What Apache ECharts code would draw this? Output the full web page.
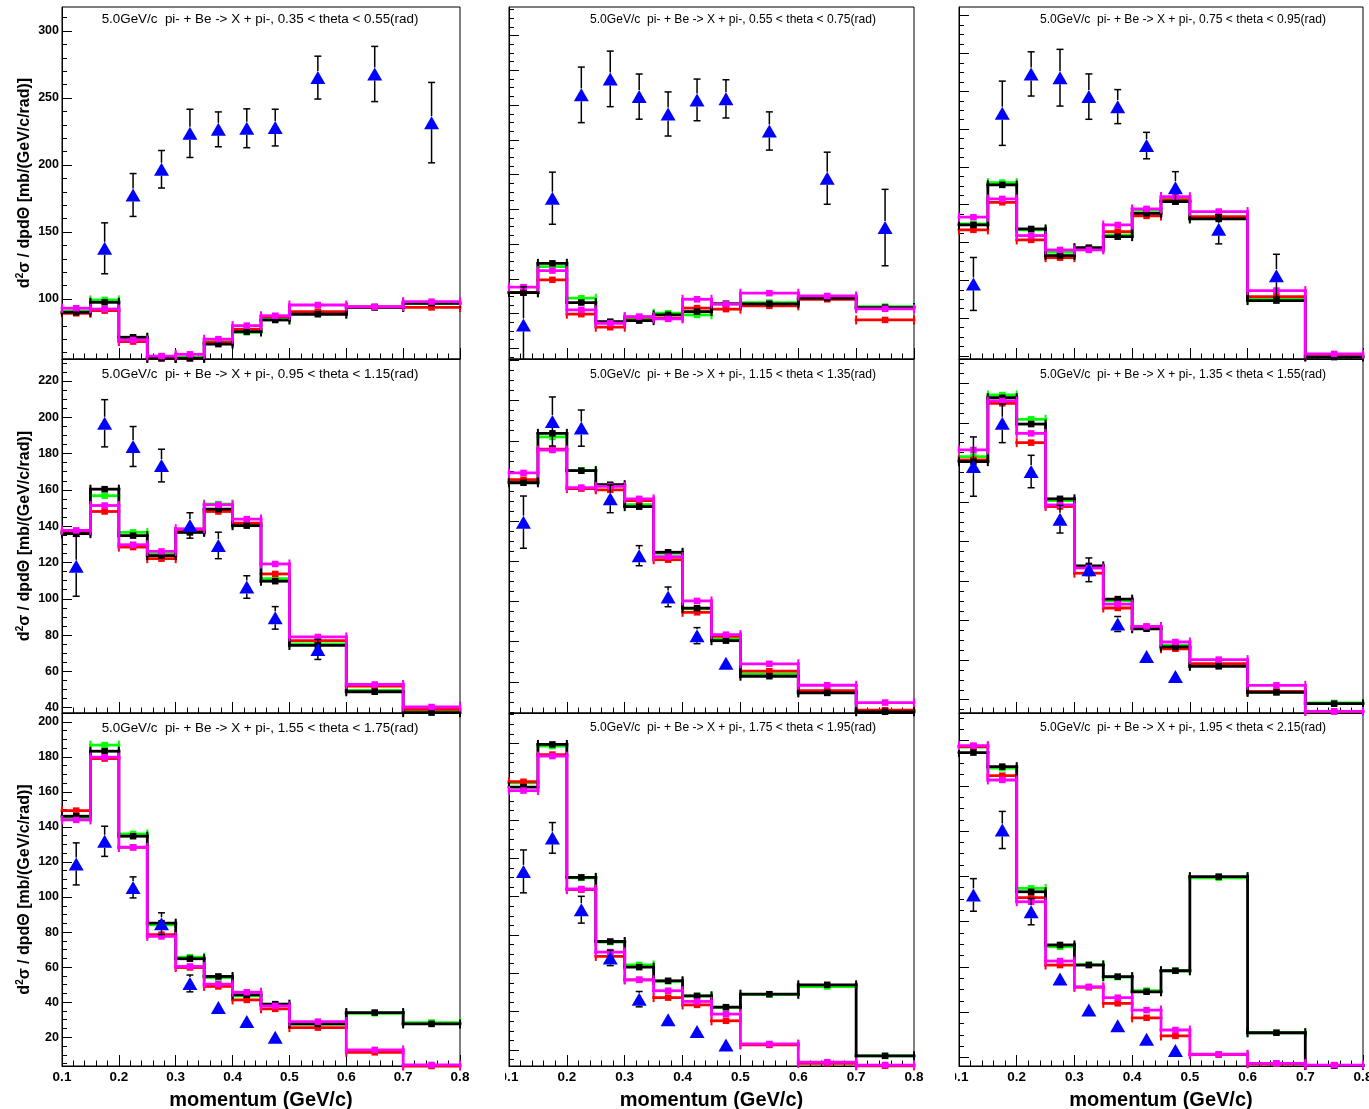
<!DOCTYPE html>
<html>
<head>
<meta charset="utf-8">
<title>pi- + Be -> X + pi- double-differential cross sections</title>
<script src="https://cdn.jsdelivr.net/npm/echarts@6/dist/echarts.min.js"></script>
<style>
  html, body { margin: 0; padding: 0; background: #ffffff; }
  .pad { position: absolute; top: 0; height: 1109px; overflow: hidden; }
</style>
</head>
<body>
<div id="col0" class="pad" style="left:0px;width:486px"></div>
<div id="col1" class="pad" style="left:505px;width:431px"></div>
<div id="col2" class="pad" style="left:955px;width:414px"></div>
<script>
// ---- binning and axis ticks -------------------------------------------
const binEdges = [0.10, 0.15, 0.20, 0.25, 0.30, 0.35, 0.40, 0.45, 0.50, 0.60, 0.70, 0.80];
const xMajorTicks = [0.1, 0.2, 0.3, 0.4, 0.5, 0.6, 0.7, 0.8];

const titles = [
  '5.0GeV/c  pi- + Be -> X + pi-, 0.35 < theta < 0.55(rad)',
  '5.0GeV/c  pi- + Be -> X + pi-, 0.55 < theta < 0.75(rad)',
  '5.0GeV/c  pi- + Be -> X + pi-, 0.75 < theta < 0.95(rad)',
  '5.0GeV/c  pi- + Be -> X + pi-, 0.95 < theta < 1.15(rad)',
  '5.0GeV/c  pi- + Be -> X + pi-, 1.15 < theta < 1.35(rad)',
  '5.0GeV/c  pi- + Be -> X + pi-, 1.35 < theta < 1.55(rad)',
  '5.0GeV/c  pi- + Be -> X + pi-, 1.55 < theta < 1.75(rad)',
  '5.0GeV/c  pi- + Be -> X + pi-, 1.75 < theta < 1.95(rad)',
  '5.0GeV/c  pi- + Be -> X + pi-, 1.95 < theta < 2.15(rad)'
];

// ---- 0.35 < theta < 0.55 ----------------------------------------------
const p1Mom = [0.175, 0.225, 0.275, 0.325, 0.375, 0.425, 0.475, 0.55, 0.65, 0.75];
const p1Data = [137.8, 177.6, 196.8, 223.6, 226.6, 227.4, 227.9, 265.2, 267.9, 231.6];
const p1Err = [19, 16, 14, 18, 13, 14.5, 13.7, 16, 20.6, 30];
const p1Green = [91.0, 99.3, 71.4, 56.3, 56.5, 68.2, 75.1, 84.8, 89.3, 94.0, 96.8];
const p1Red = [89.3, 91.3, 68.2, 55.7, 55.7, 67.5, 77.4, 86.8, 90.5, 94.0, 93.7];
const p1Black = [90.1, 97.5, 71.4, 55.7, 55.7, 66.3, 75.6, 84.3, 88.6, 93.7, 96.8];
const p1Magenta = [93.1, 92.5, 69.4, 57.4, 58.7, 70.0, 80.1, 87.5, 95.5, 94.2, 98.0];
const p1Range = [55.2, 317.9];
const p1Ticks = [100, 150, 200, 250, 300];

// ---- 0.55 < theta < 0.75 ----------------------------------------------
const p2Mom = [0.125, 0.175, 0.225, 0.275, 0.325, 0.375, 0.425, 0.475, 0.55, 0.65, 0.75];
const p2Data = [93.4, 166.4, 225.9, 235.1, 224.9, 214.9, 223.0, 223.6, 205.1, 177.9, 149.5];
const p2Err = [22, 15, 16, 16, 13, 12.7, 12, 11, 11, 15, 22];
const p2Green = [112.0, 127.0, 108.8, 95.0, 96.7, 100.2, 99.2, 105.6, 106.3, 109.2, 104.0];
const p2Red = [112.0, 119.4, 99.6, 92.1, 97.9, 97.3, 103.1, 102.5, 104.4, 108.2, 96.3];
const p2Black = [112.0, 128.9, 106.3, 95.3, 95.9, 99.2, 101.1, 105.6, 105.6, 108.9, 103.4];
const p2Magenta = [115.2, 124.7, 102.1, 94.4, 98.2, 96.9, 108.2, 105.4, 111.7, 110.1, 102.7];
const p2Range = [73.8, 276.5];
const p2Ticks = [80, 100, 120, 140, 160, 180, 200, 220, 240, 260];

// ---- 0.75 < theta < 0.95 ----------------------------------------------
const p3Mom = [0.125, 0.175, 0.225, 0.275, 0.325, 0.375, 0.425, 0.475, 0.55, 0.65];
const p3Data = [98.1, 188.4, 209.2, 207.2, 197.2, 191.9, 171.3, 149.0, 127.0, 102.5];
const p3Err = [14, 17, 11.7, 15, 12, 9, 7, 8.5, 7.7, 11.3];
const p3Green = [129.8, 151.7, 126.7, 114.9, 117.0, 124.0, 137.3, 142.9, 132.9, 90.0, 60.0];
const p3Red = [126.7, 141.3, 121.4, 112.0, 116.6, 125.8, 134.1, 142.5, 133.7, 91.4, 59.7];
const p3Black = [129.3, 150.5, 127.2, 113.1, 117.3, 123.1, 135.5, 141.6, 132.5, 89.3, 59.4];
const p3Magenta = [133.4, 143.1, 123.7, 116.1, 116.1, 129.3, 137.8, 144.3, 136.4, 94.6, 61.1];
const p3Range = [58.4, 244.6];
const p3Ticks = [60, 80, 100, 120, 140, 160, 180, 200, 220, 240];

// ---- 0.95 < theta < 1.15 ----------------------------------------------
const p4Mom = [0.125, 0.175, 0.225, 0.275, 0.325, 0.375, 0.425, 0.475, 0.55];
const p4Data = [117.9, 196.7, 183.9, 173.4, 140.4, 129.4, 106.5, 89.5, 72.1];
const p4Err = [16.5, 13, 11, 9, 7, 7.3, 6.2, 6.2, 5.5];
const p4Green = [136.6, 156.8, 136.6, 124.7, 136.8, 152.2, 140.8, 111.1, 75.2, 49.5, 38.2];
const p4Red = [137.1, 148.1, 128.5, 122.1, 137.1, 148.1, 141.7, 113.7, 77.0, 51.9, 39.1];
const p4Black = [135.9, 160.4, 134.8, 123.8, 136.6, 149.4, 140.3, 109.7, 74.3, 48.8, 37.3];
const p4Magenta = [137.7, 151.4, 129.8, 126.1, 138.6, 151.8, 143.9, 119.2, 79.0, 52.8, 40.4];
const p4Range = [37.1, 232.1];
const p4Ticks = [40, 60, 80, 100, 120, 140, 160, 180, 200, 220];

// ---- 1.15 < theta < 1.35 ----------------------------------------------
const p5Mom = [0.125, 0.175, 0.225, 0.275, 0.325, 0.375, 0.425, 0.475];
const p5Data = [119.5, 169.6, 166.3, 131.1, 102.8, 82.3, 63.0, 49.3];
const p5Err = [13, 12.2, 9, 6.9, 5, 4.9, 4, 2];
const p5Green = [139.7, 161.9, 145.3, 138.0, 128.2, 104.0, 76.4, 61.5, 43.9, 34.9, 25.5];
const p5Red = [140.6, 155.8, 136.2, 135.6, 130.2, 100.8, 74.6, 62.7, 45.3, 35.6, 25.9];
const p5Black = [139.1, 163.7, 145.1, 138.1, 127.2, 104.5, 76.7, 60.5, 42.8, 34.5, 25.1];
const p5Magenta = [144.0, 155.4, 136.7, 137.3, 131.1, 102.3, 80.3, 63.5, 49.0, 38.3, 29.7];
const p5Range = [24.5, 200.7];
const p5Ticks = [40, 60, 80, 100, 120, 140, 160, 180, 200];

// ---- 1.35 < theta < 1.55 ----------------------------------------------
const p6Mom = [0.125, 0.175, 0.225, 0.275, 0.325, 0.375, 0.425, 0.475];
const p6Data = [137.9, 159.8, 135.4, 111.3, 85.7, 58.3, 41.9, 31.8];
const p6Err = [15, 9.8, 8.2, 7, 6, 3.8, 2, 2];
const p6Green = [142.9, 174.1, 161.8, 120.7, 86.9, 70.0, 56.4, 47.5, 37.4, 23.9, 18.4];
const p6Red = [141.3, 169.9, 150.0, 117.7, 84.0, 66.4, 56.9, 45.8, 38.2, 24.2, 14.1];
const p6Black = [140.4, 172.7, 159.4, 121.6, 87.7, 70.9, 55.9, 46.7, 36.9, 23.7, 18.0];
const p6Magenta = [146.3, 171.1, 154.7, 118.5, 86.6, 68.4, 57.1, 49.2, 40.3, 27.3, 14.1];
const p6Range = [13.3, 192.3];
const p6Ticks = [20, 40, 60, 80, 100, 120, 140, 160, 180];

// ---- 1.55 < theta < 1.75 ----------------------------------------------
const p7Mom = [0.125, 0.175, 0.225, 0.275, 0.325, 0.375, 0.425, 0.475];
const p7Data = [118.9, 131.8, 105.5, 84.8, 50.7, 37.0, 29.0, 20.0];
const p7Err = [12, 8.6, 6, 6.2, 4.8, 2, 2, 2];
const p7Green = [145.1, 186.7, 136.0, 84.2, 65.7, 54.1, 43.6, 38.5, 27.5, 33.7, 28.4];
const p7Red = [149.3, 179.0, 128.4, 78.5, 59.8, 49.0, 41.3, 36.2, 25.5, 11.4, 3.6];
const p7Black = [146.1, 183.2, 134.7, 85.1, 64.8, 54.7, 44.2, 38.9, 27.6, 34.1, 27.6];
const p7Magenta = [144.0, 179.8, 128.4, 77.5, 60.4, 50.3, 45.7, 37.9, 28.9, 12.8, 4.2];
const p7Range = [3.6, 205.0];
const p7Ticks = [20, 40, 60, 80, 100, 120, 140, 160, 180, 200];

// ---- 1.75 < theta < 1.95 ----------------------------------------------
const p8Mom = [0.125, 0.175, 0.225, 0.275, 0.325, 0.375, 0.425, 0.475];
const p8Data = [113.2, 130.7, 93.2, 68.0, 46.5, 35.7, 29.6, 22.6];
const p8Err = [11.2, 8, 7, 4, 4, 2, 2, 2];
const p8Green = [159.4, 178.6, 109.8, 76.3, 64.4, 55.8, 48.2, 42.3, 48.9, 53.1, 16.9];
const p8Red = [160.0, 174.2, 103.7, 68.8, 56.6, 47.3, 43.5, 35.2, 22.6, 13.0, 11.7];
const p8Black = [157.2, 179.5, 110.1, 76.6, 63.2, 56.1, 48.2, 42.3, 49.1, 54.0, 16.9];
const p8Magenta = [155.4, 173.4, 104.0, 71.1, 56.6, 50.9, 45.3, 38.7, 23.1, 13.6, 12.1];
const p8Range = [11.6, 195.9];
const p8Ticks = [20, 40, 60, 80, 100, 120, 140, 160, 180];

// ---- 1.95 < theta < 2.15 ----------------------------------------------
const p9Mom = [0.125, 0.175, 0.225, 0.275, 0.325, 0.375, 0.425, 0.475];
const p9Data = [91.8, 120.5, 84.4, 54.7, 41.0, 34.0, 28.0, 23.0];
const p9Err = [7.2, 8.2, 5.8, 2, 2, 2, 2, 2];
const p9Green = [157.1, 147.8, 94.7, 68.9, 61.0, 55.5, 49.5, 58.3, 99.4, 30.9, 16.4];
const p9Red = [157.4, 144.5, 90.6, 60.8, 51.0, 43.9, 37.5, 29.5, 21.2, 17.2, 16.4];
const p9Black = [154.7, 148.5, 93.2, 69.7, 60.8, 55.7, 49.0, 58.3, 99.9, 30.9, 16.4];
const p9Magenta = [157.8, 142.6, 88.8, 62.6, 51.2, 46.4, 40.9, 32.1, 21.4, 17.4, 16.6];
const p9Range = [16.2, 172.2];
const p9Ticks = [20, 40, 60, 80, 100, 120, 140, 160];

// ---- panel table (row-major, 3x3) -------------------------------------
const panels = [
  {mom: p1Mom, data: p1Data, err: p1Err, green: p1Green, red: p1Red, black: p1Black, magenta: p1Magenta, range: p1Range, ticks: p1Ticks, minorStep: 10},
  {mom: p2Mom, data: p2Data, err: p2Err, green: p2Green, red: p2Red, black: p2Black, magenta: p2Magenta, range: p2Range, ticks: p2Ticks, minorStep: 5},
  {mom: p3Mom, data: p3Data, err: p3Err, green: p3Green, red: p3Red, black: p3Black, magenta: p3Magenta, range: p3Range, ticks: p3Ticks, minorStep: 5},
  {mom: p4Mom, data: p4Data, err: p4Err, green: p4Green, red: p4Red, black: p4Black, magenta: p4Magenta, range: p4Range, ticks: p4Ticks, minorStep: 5},
  {mom: p5Mom, data: p5Data, err: p5Err, green: p5Green, red: p5Red, black: p5Black, magenta: p5Magenta, range: p5Range, ticks: p5Ticks, minorStep: 5},
  {mom: p6Mom, data: p6Data, err: p6Err, green: p6Green, red: p6Red, black: p6Black, magenta: p6Magenta, range: p6Range, ticks: p6Ticks, minorStep: 5},
  {mom: p7Mom, data: p7Data, err: p7Err, green: p7Green, red: p7Red, black: p7Black, magenta: p7Magenta, range: p7Range, ticks: p7Ticks, minorStep: 5},
  {mom: p8Mom, data: p8Data, err: p8Err, green: p8Green, red: p8Red, black: p8Black, magenta: p8Magenta, range: p8Range, ticks: p8Ticks, minorStep: 5},
  {mom: p9Mom, data: p9Data, err: p9Err, green: p9Green, red: p9Red, black: p9Black, magenta: p9Magenta, range: p9Range, ticks: p9Ticks, minorStep: 5}
];

// ---- styling / layout -------------------------------------------------
const FONT = '"Liberation Sans", Arial, Helvetica, sans-serif';
const COL = {green: '#00ff00', red: '#ff0000', black: '#000000', magenta: '#ff00ff', data: '#0000ff'};
const rowTop = [7, 359, 713];
const rowHeight = [352, 354, 353];
const titleY = [19.5, 374.5, 728];
const columns = [
  {el: 'col0', gridLeft: 62, gridWidth: 398, titleX: 260, titleSize: 13.4},
  {el: 'col1', gridLeft: 4, gridWidth: 405, titleX: 228, titleSize: 12.1},
  {el: 'col2', gridLeft: 4, gridWidth: 404, titleX: 228, titleSize: 12.1}
];

const xMinorTicks = [];
for (let k = 5; k <= 40; k++) if (k % 5 !== 0) xMinorTicks.push(k / 50);

function minorTicks(range, step, majors) {
  const out = [];
  for (let v = Math.ceil(range[0] / step) * step; v <= range[1] + 1e-9; v += step) {
    if (!majors.some(m => Math.abs(m - v) < 1e-9)) out.push(v);
  }
  return out;
}

// Histogram drawn ROOT-style: horizontal bar over each bin with end caps,
// a square marker at the bin centre and (optionally) the connecting steps.
function histSeries(axisIdx, values, color, steps, z) {
  const data = values.map((v, i) => [binEdges[i], binEdges[i + 1], v, i + 1 < values.length ? values[i + 1] : v]);
  return {
    type: 'custom', xAxisIndex: axisIdx, yAxisIndex: axisIdx, z: z, silent: true,
    data: data, encode: {x: [0, 1], y: 2},
    renderItem: function (params, api) {
      const lo = api.value(0), hi = api.value(1), v = api.value(2), nxt = api.value(3);
      const a = api.coord([lo, v]);
      const b = api.coord([hi, v]);
      const bar = {stroke: color, lineWidth: 2.8, lineCap: 'square'};
      const cap = {stroke: color, lineWidth: 2};
      const ch = 4.5, ms = 6.5;
      const kids = [
        {type: 'line', shape: {x1: a[0], y1: a[1], x2: b[0], y2: b[1]}, style: bar},
        {type: 'line', shape: {x1: a[0], y1: a[1] - ch, x2: a[0], y2: a[1] + ch}, style: cap},
        {type: 'line', shape: {x1: b[0], y1: b[1] - ch, x2: b[0], y2: b[1] + ch}, style: cap},
        {type: 'rect', shape: {x: (a[0] + b[0]) / 2 - ms / 2, y: a[1] - ms / 2, width: ms, height: ms}, style: {fill: color}}
      ];
      if (steps && nxt !== v) {
        const c = api.coord([hi, nxt]);
        kids.push({type: 'line', shape: {x1: b[0], y1: b[1], x2: c[0], y2: c[1]}, style: bar});
      }
      return {type: 'group', children: kids};
    }
  };
}

// Vertical error bars of the measurements, kept outside the marker and
// clipped to the frame.
function errorSeries(axisIdx, p) {
  const data = p.mom.map((m, i) => [m, p.data[i], p.err[i]]);
  return {
    type: 'custom', xAxisIndex: axisIdx, yAxisIndex: axisIdx, z: 10, silent: true,
    data: data, encode: {x: 0, y: 1},
    renderItem: function (params, api) {
      const x = api.value(0), v = api.value(1), e = api.value(2);
      const c = api.coord([x, v]);
      const t = api.coord([x, v + e]);
      const b = api.coord([x, v - e]);
      const cs = params.coordSys;
      const gap = 6.5, hw = 3.5;
      const st = {stroke: '#000', lineWidth: 1.5};
      const kids = [];
      if (c[1] - t[1] > gap) {
        const yt = Math.max(t[1], cs.y);
        kids.push({type: 'line', shape: {x1: c[0], y1: c[1] - gap, x2: c[0], y2: yt}, style: st});
        if (t[1] >= cs.y) kids.push({type: 'line', shape: {x1: c[0] - hw, y1: yt, x2: c[0] + hw, y2: yt}, style: st});
      }
      if (b[1] - c[1] > gap) {
        const yb = Math.min(b[1], cs.y + cs.height);
        kids.push({type: 'line', shape: {x1: c[0], y1: c[1] + gap, x2: c[0], y2: yb}, style: st});
        if (b[1] <= cs.y + cs.height) kids.push({type: 'line', shape: {x1: c[0] - hw, y1: yb, x2: c[0] + hw, y2: yb}, style: st});
      }
      return {type: 'group', children: kids};
    }
  };
}

function columnOption(col) {
  const L = columns[col];
  const grid = [], xAxis = [], yAxis = [], series = [], graphic = [];
  for (let row = 0; row < 3; row++) {
    const p = panels[row * 3 + col];
    const ax = 2 * row;
    const bottomRow = row === 2;
    grid.push({left: L.gridLeft, top: rowTop[row], width: L.gridWidth, height: rowHeight[row],
      containLabel: false, outerBoundsMode: 'none',
      show: true, borderColor: '#000', borderWidth: 1, backgroundColor: 'transparent'});

    xAxis.push({
      type: 'value', gridIndex: row, position: 'bottom', min: 0.1, max: 0.8,
      axisLine: {show: true, onZero: false, lineStyle: {color: '#000', width: 1}},
      axisTick: {show: true, inside: true, length: 11, customValues: xMajorTicks, lineStyle: {color: '#000', width: 1}},
      axisLabel: {show: bottomRow, customValues: xMajorTicks, formatter: v => v.toFixed(1),
        color: '#000', fontFamily: FONT, fontWeight: 'bold', fontSize: 13.5, margin: 4,
        showMinLabel: true, showMaxLabel: true, hideOverlap: false},
      splitLine: {show: false},
      name: bottomRow ? 'momentum (GeV/c)' : '', nameLocation: 'middle', nameGap: 24,
      nameMoveOverlap: false,
      nameTextStyle: {color: '#000', fontFamily: FONT, fontWeight: 'bold', fontSize: 20}
    });
    xAxis.push({
      type: 'value', gridIndex: row, position: 'bottom', min: 0.1, max: 0.8,
      axisLine: {show: false, onZero: false},
      axisTick: {show: true, inside: true, length: 5.5, customValues: xMinorTicks, lineStyle: {color: '#000', width: 1}},
      axisLabel: {show: false}, splitLine: {show: false}
    });

    const yMinor = minorTicks(p.range, p.minorStep, p.ticks);
    yAxis.push({
      type: 'value', gridIndex: row, position: 'left', min: p.range[0], max: p.range[1],
      axisLine: {show: true, onZero: false, lineStyle: {color: '#000', width: 1}},
      axisTick: {show: true, inside: true, length: 10, customValues: p.ticks, lineStyle: {color: '#000', width: 1}},
      axisLabel: {show: col === 0, customValues: p.ticks, color: '#000', fontFamily: FONT,
        fontWeight: 'bold', fontSize: 12.5, margin: 3, showMinLabel: true, showMaxLabel: true, hideOverlap: false},
      splitLine: {show: false},
      name: col === 0 ? '{t|d}{s|2}{t|σ / dpdΘ [mb/(GeV/c/rad)]}' : '',
      nameLocation: 'middle', nameRotate: 90, nameGap: 27, nameMoveOverlap: false,
      nameTextStyle: {color: '#000', rich: {
        t: {fontFamily: FONT, fontWeight: 'bold', fontSize: 16, lineHeight: 20, color: '#000'},
        s: {fontFamily: FONT, fontWeight: 'bold', fontSize: 10, lineHeight: 20, verticalAlign: 'top', color: '#000'}
      }}
    });
    yAxis.push({
      type: 'value', gridIndex: row, position: 'left', min: p.range[0], max: p.range[1],
      axisLine: {show: false, onZero: false},
      axisTick: {show: true, inside: true, length: 5, customValues: yMinor, lineStyle: {color: '#000', width: 1}},
      axisLabel: {show: false}, splitLine: {show: false}
    });

    series.push(histSeries(ax, p.green, COL.green, false, 3));
    series.push(histSeries(ax, p.red, COL.red, false, 4));
    series.push(histSeries(ax, p.black, COL.black, true, 5));
    series.push(histSeries(ax, p.magenta, COL.magenta, true, 6));
    series.push(errorSeries(ax, p));
    series.push({
      type: 'scatter', xAxisIndex: ax, yAxisIndex: ax, z: 11, silent: true,
      symbol: 'triangle', symbolSize: [15, 13],
      itemStyle: {color: COL.data, opacity: 1},
      data: p.mom.map((m, i) => [m, p.data[i]])
    });

    graphic.push({
      type: 'text', x: L.titleX, y: titleY[row], silent: true,
      style: {text: titles[row * 3 + col], fill: '#000',
        font: L.titleSize + 'px ' + FONT,
        align: 'center', verticalAlign: 'middle',
        textAlign: 'center', textVerticalAlign: 'middle'}
    });
  }
  return {animation: false, backgroundColor: '#ffffff', grid, xAxis, yAxis, series, graphic};
}

columns.forEach((c, i) => {
  const chart = echarts.init(document.getElementById(c.el), null, {renderer: 'canvas'});
  chart.setOption(columnOption(i));
});
</script>
</body>
</html>
